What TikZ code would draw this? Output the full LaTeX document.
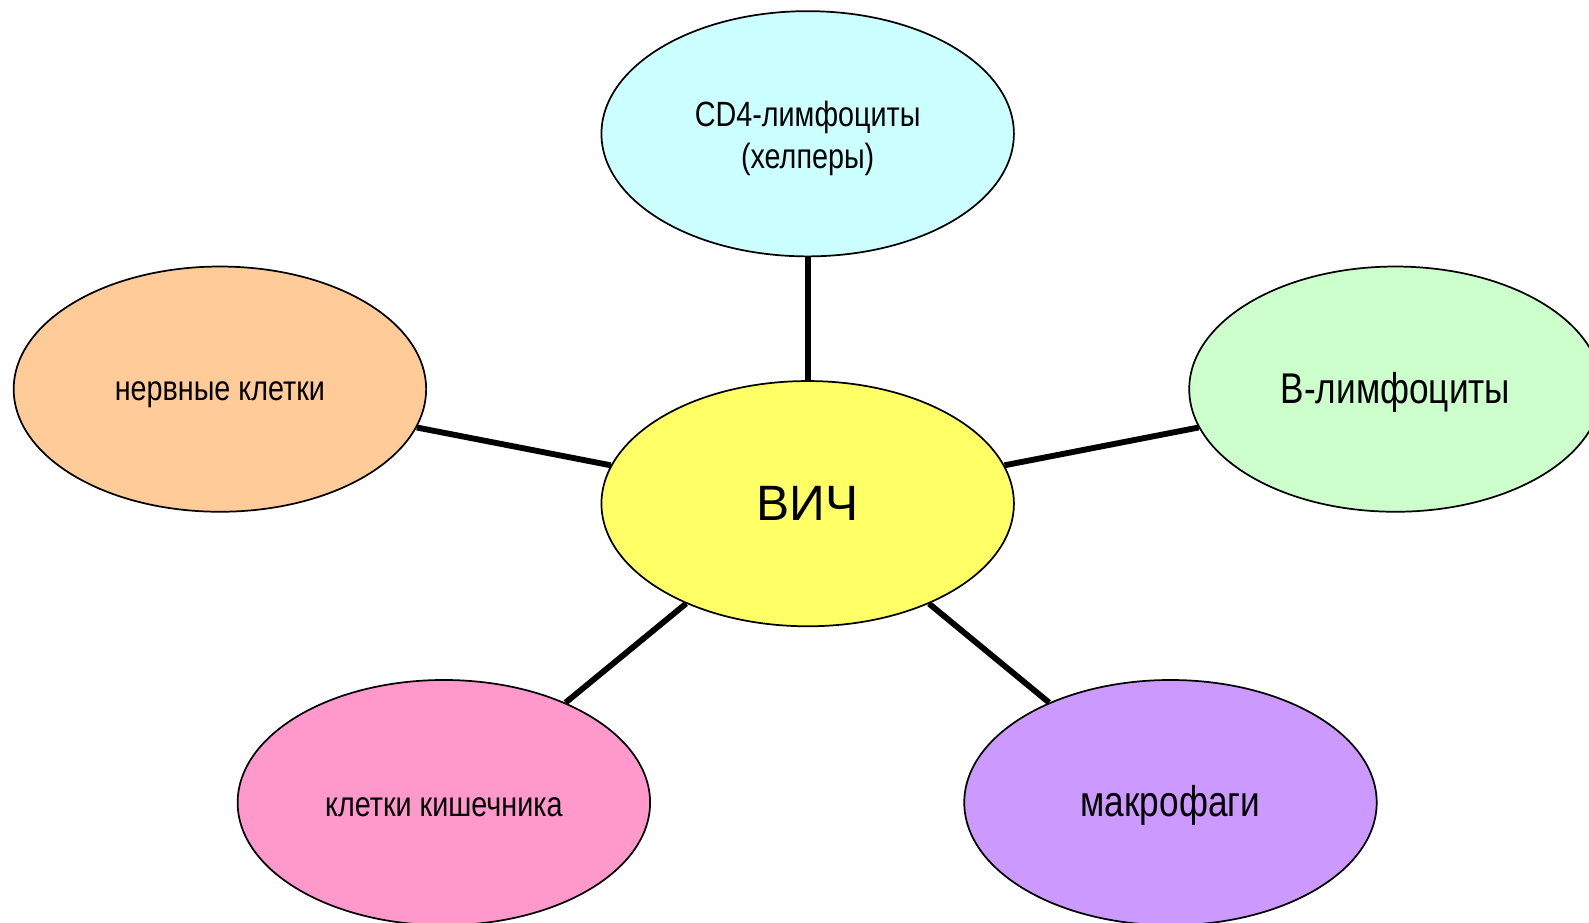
\documentclass[tikz,border=0pt]{standalone}
\usepackage{fontspec}
\setmainfont{Liberation Sans}
\newfontfamily\narrowfont[FakeStretch=0.82]{Liberation Sans}
\usetikzlibrary{shapes.geometric}
\definecolor{cyellow}{HTML}{FFFF66}
\definecolor{ccyan}{HTML}{CCFFFF}
\definecolor{corange}{HTML}{FFCC99}
\definecolor{cgreen}{HTML}{CCFFCC}
\definecolor{cpink}{HTML}{FF99CC}
\definecolor{cpurple}{HTML}{CC99FF}
\tikzset{
  blob/.style={ellipse, draw=black, line width=0.85pt, minimum width=203.5pt, minimum height=121pt, inner sep=0pt, align=center, text=black},
  lbl/.style={inner sep=0pt, align=center, text=black},
  smalltext/.style={font=\narrowfont\fontsize{17.3pt}{20.8pt}\selectfont},
  bigtext/.style={font=\narrowfont\fontsize{21.2pt}{25pt}\selectfont},
  huge/.style={font=\fontsize{24.5pt}{29pt}\selectfont},
  conn/.style={line width=2.9pt, black}
}
\begin{document}
\begin{tikzpicture}[x=0.5pt,y=-0.5pt]
\useasboundingbox (0,0) rectangle (1568,910);
\clip (0,0) rectangle (1568,910);
\fill[white] (0,0) rectangle (1568,910);
\node[blob, fill=cyellow] (hiv) at (797,497) {};
\node[blob, fill=ccyan] (cd4) at (797,132) {};
\node[blob, fill=corange] (nerve) at (217,384) {};
\node[blob, fill=cgreen] (blym) at (1377,384) {};
\node[blob, fill=cpink] (gut) at (438,792) {};
\node[blob, fill=cpurple] (macro) at (1155,792) {};
\node[lbl, huge] (thiv) at (797,497) {ВИЧ};
\node[lbl, smalltext] (tcd4) at (797,137) {CD4-лимфоциты\\(хелперы)};
\node[lbl, smalltext] (tnerve) at (217,389) {нервные клетки};
\node[lbl, bigtext] (tblym) at (1377,387) {В-лимфоциты};
\node[lbl, smalltext] (tgut) at (438,797) {клетки кишечника};
\node[lbl, bigtext] (tmacro) at (1155,795) {макрофаги};
\draw[conn] (hiv) -- (cd4);
\draw[conn] (hiv) -- (nerve);
\draw[conn] (hiv) -- (blym);
\draw[conn] (hiv) -- (gut);
\draw[conn] (hiv) -- (macro);
\end{tikzpicture}
\end{document}
